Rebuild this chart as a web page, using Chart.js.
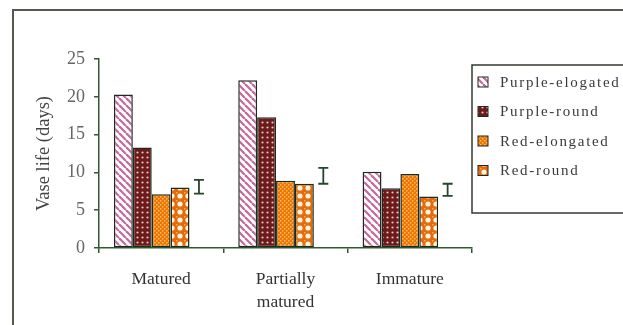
<!DOCTYPE html>
<html>
<head>
<meta charset="utf-8">
<script src="https://cdn.jsdelivr.net/npm/chart.js@4.4.1/dist/chart.umd.min.js"></script>
<style>
  html, body { margin: 0; padding: 0; background: #fff; }
  #wrap { width: 623px; height: 325px; position: relative; }
</style>
</head>
<body>
<div id="wrap"><canvas id="grafico"></canvas></div>
<script>
// valores
const categorias = [['Matured'], ['Partially', 'matured'], ['Immature']];
const purpleElongated = [20.3, 22.2, 10.1];
const purpleRound = [13.3, 17.3, 7.9];
const redElongated = [7.1, 8.9, 9.8];
const redRound = [8.0, 8.5, 6.8];
const lsdBaixo = [7.2, 8.5, 6.9];
const lsdAlto = [9.0, 10.6, 8.5];
const ticksY = [0, 5, 10, 15, 20, 25];

const serif = '"Liberation Serif", "DejaVu Serif", serif';

function criarPadrao(tam, desenhar) {
    const c = document.createElement('canvas');
    c.width = tam; c.height = tam;
    const g = c.getContext('2d');
    desenhar(g, tam);
    return c.getContext('2d').createPattern(c, 'repeat');
}

// listras diagonais rosa
const padraoPE = criarPadrao(7, (g, t) => {
    g.fillStyle = '#ffffff'; g.fillRect(0, 0, t, t);
    g.strokeStyle = '#c4679c'; g.lineWidth = 2.2;
    for (const o of [-t, 0, t]) {
        g.beginPath(); g.moveTo(o, 0); g.lineTo(o + t, t); g.stroke();
    }
});
// marrom com pontos claros
const padraoPR = criarPadrao(5, (g, t) => {
    g.fillStyle = '#6c1a1c'; g.fillRect(0, 0, t, t);
    g.fillStyle = '#e8c8b8';
    g.beginPath(); g.arc(2.5, 2.5, 1.1, 0, Math.PI * 2); g.fill();
});
// laranja com pontinhos amarelos
const padraoRE = criarPadrao(4, (g, t) => {
    g.fillStyle = '#ec7410'; g.fillRect(0, 0, t, t);
    g.fillStyle = '#ffc040';
    g.fillRect(0, 0, 1.5, 1.5);
    g.fillRect(2, 2, 1.5, 1.5);
});
// laranja com bolas brancas
const padraoRR = criarPadrao(8, (g, t) => {
    g.fillStyle = '#e46a10'; g.fillRect(0, 0, t, t);
    g.fillStyle = '#fff4d8';
    g.beginPath(); g.arc(4, 4, 2.6, 0, Math.PI * 2); g.fill();
    g.fillStyle = '#ffb030';
    g.fillRect(0, 0, 1.5, 1.5);
});

const corEixo = '#2f5a2f';
const corBorda = '#1f2a1f';

// moldura e legenda desenhadas à mão
const pluginMoldura = {
    id: 'moldura',
    beforeDraw(chart) {
        const ctx = chart.ctx;
        ctx.save();
        ctx.fillStyle = '#fff';
        ctx.fillRect(0, 0, chart.width, chart.height);
        ctx.strokeStyle = '#555a50';
        ctx.lineWidth = 2;
        ctx.beginPath();
        ctx.moveTo(13, 325); ctx.lineTo(13, 10); ctx.lineTo(623, 10);
        ctx.stroke();
        ctx.restore();
    },
    afterDraw(chart) {
        const ctx = chart.ctx;
        ctx.save();
        ctx.strokeStyle = '#333a30';
        ctx.lineWidth = 1.5;
        ctx.strokeRect(472, 65, 170, 148);
        ctx.font = '15px ' + serif;
        ctx.letterSpacing = '1.7px';
        ctx.textBaseline = 'middle';
        chart.data.datasets.slice(0, 4).forEach((ds, i) => {
            const y = 82 + i * 29.5;
            ctx.fillStyle = ds.backgroundColor;
            ctx.fillRect(478, y - 5, 10, 10);
            ctx.strokeStyle = corBorda; ctx.lineWidth = 1;
            ctx.strokeRect(478, y - 5, 10, 10);
            ctx.fillStyle = '#3a3a3a';
            ctx.fillText(ds.label, 500, y + 1);
        });
        ctx.restore();
    }
};

// barras de erro em forma de I
const pluginErro = {
    id: 'erro',
    afterDatasetsDraw(chart) {
        const meta = chart.getDatasetMeta(4);
        const ctx = chart.ctx;
        ctx.save();
        ctx.strokeStyle = '#27452a';
        ctx.lineWidth = 1.8;
        meta.data.forEach(el => {
            const x = el.x, y1 = el.y, y2 = el.base;
            ctx.beginPath();
            ctx.moveTo(x, y1); ctx.lineTo(x, y2);
            ctx.moveTo(x - 5, y1); ctx.lineTo(x + 5, y1);
            ctx.moveTo(x - 5, y2); ctx.lineTo(x + 5, y2);
            ctx.stroke();
        });
        ctx.restore();
    }
};

const comum = { borderColor: corBorda, borderWidth: 1.5, borderSkipped: false };

new Chart(document.getElementById('grafico'), {
    type: 'bar',
    data: {
        labels: categorias,
        datasets: [
            { label: 'Purple-elogated', data: purpleElongated, backgroundColor: padraoPE, ...comum },
            { label: 'Purple-round', data: purpleRound, backgroundColor: padraoPR, ...comum },
            { label: 'Red-elongated', data: redElongated, backgroundColor: padraoRE, ...comum },
            { label: 'Red-round', data: redRound, backgroundColor: padraoRR, ...comum },
            { label: 'LSD', data: lsdBaixo.map((v, i) => [v, lsdAlto[i]]), backgroundColor: 'rgba(0,0,0,0)', borderWidth: 0 }
        ]
    },
    options: {
        responsive: true,
        maintainAspectRatio: false,
        animation: false,
        categoryPercentage: 0.76,
        barPercentage: 1,
        layout: { padding: { left: 13, top: 59, right: 151, bottom: 0 } },
        plugins: {
            legend: { display: false },
            tooltip: { enabled: false }
        },
        scales: {
            x: {
                grid: { drawOnChartArea: false, color: corEixo, tickLength: 5, lineWidth: 1.5 },
                border: { color: corEixo, width: 1.5 },
                ticks: { color: '#333', padding: 15, font: { family: serif, size: 17.5, lineHeight: 1.3 } },
                afterFit(s) { s.height = 77; }
            },
            y: {
                min: 0,
                max: 25,
                afterBuildTicks(s) { s.ticks = ticksY.map(v => ({ value: v })); },
                grid: { drawOnChartArea: false, color: corEixo, tickLength: 5, lineWidth: 1.5 },
                border: { color: corEixo, width: 1.5 },
                ticks: { color: '#666', padding: 9, font: { family: serif, size: 18 } },
                title: {
                    display: true,
                    text: 'Vase life (days)',
                    color: '#444',
                    font: { family: serif, size: 18.5, lineHeight: 1.2 },
                    padding: { top: 20, bottom: 0 }
                },
                afterFit(s) { s.width = 86; }
            }
        }
    },
    plugins: [pluginMoldura, pluginErro]
});
</script>
</body>
</html>
